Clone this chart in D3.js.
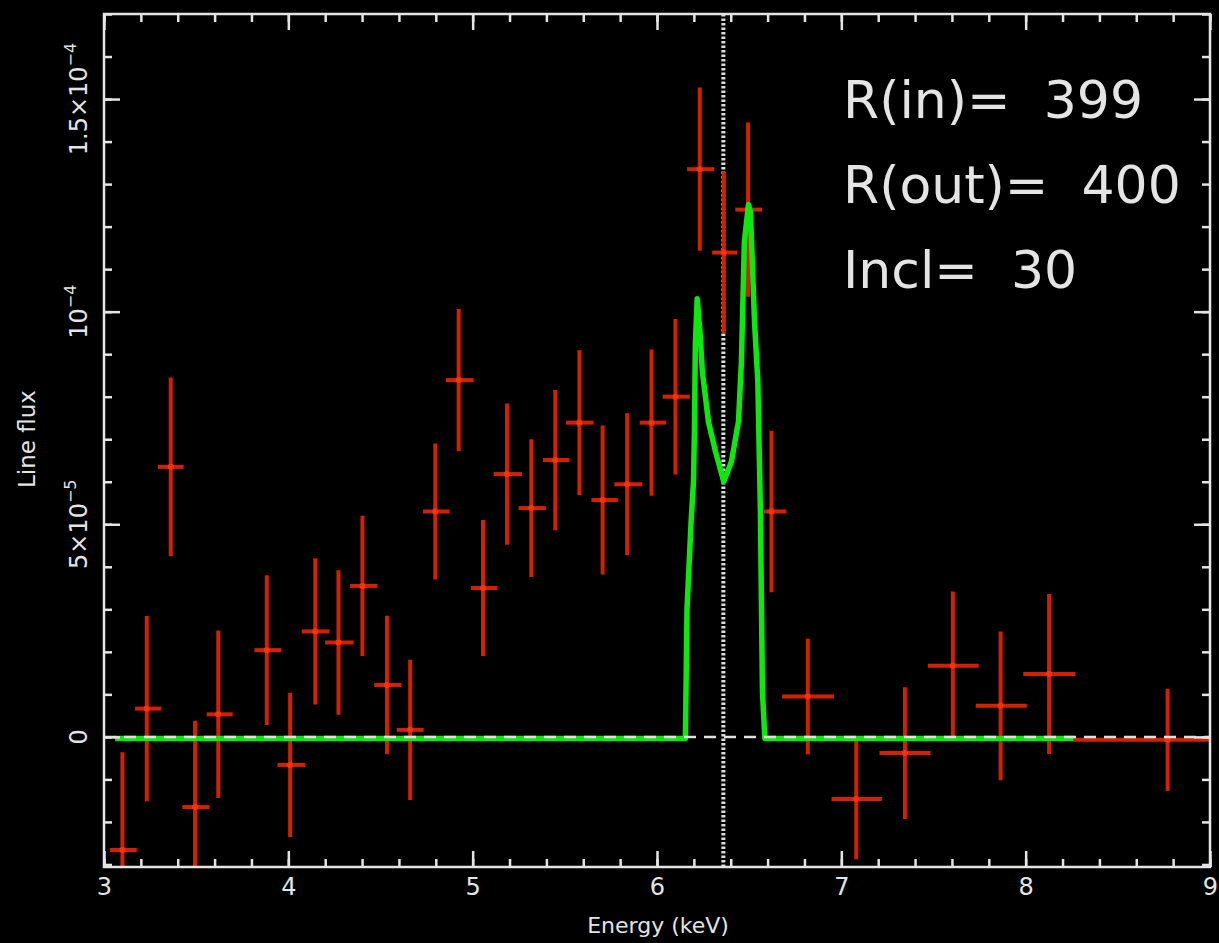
<!DOCTYPE html>
<html>
<head>
<meta charset="utf-8">
<script src="https://cdn.jsdelivr.net/npm/d3@7"></script>
<style>
  html, body { margin: 0; padding: 0; background: #000; }
  svg { display: block; }
</style>
</head>
<body>
<script>
(function(){
//data binned line flux (units of 1e-5)
var energy = [3.10, 3.232, 3.362, 3.494, 3.62, 3.883, 4.01, 4.146, 4.272, 4.402, 4.535, 4.661, 4.797, 4.924, 5.056, 5.186, 5.318, 5.448, 5.579, 5.705, 5.838, 5.97, 6.10, 6.232, 6.362, 6.494, 6.621, 6.818, 7.081, 7.345, 7.605, 7.864, 8.127, 8.77];
var energyLo = [3.033, 3.168, 3.292, 3.425, 3.557, 3.816, 3.941, 4.073, 4.20, 4.335, 4.466, 4.588, 4.73, 4.855, 4.99, 5.114, 5.249, 5.381, 5.506, 5.644, 5.769, 5.906, 6.031, 6.163, 6.299, 6.425, 6.58, 6.679, 6.947, 7.207, 7.469, 7.729, 7.987, 8.26];
var energyHi = [3.178, 3.309, 3.432, 3.572, 3.698, 3.961, 4.091, 4.223, 4.354, 4.483, 4.612, 4.734, 4.875, 5.005, 5.134, 5.268, 5.397, 5.525, 5.656, 5.787, 5.92, 6.05, 6.178, 6.311, 6.435, 6.57, 6.702, 6.96, 7.22, 7.484, 7.745, 8.006, 8.27, 9.2];
var flux = [-2.66, 0.665, 6.35, -1.65, 0.53, 2.04, -0.66, 2.48, 2.22, 3.55, 1.22, 0.165, 5.30, 8.39, 3.50, 6.18, 5.38, 6.51, 7.39, 5.57, 5.94, 7.39, 8.00, 13.35, 11.39, 12.40, 5.30, 0.95, -1.46, -0.38, 1.67, 0.73, 1.48, -0.07];
var fluxErr = [2.3, 2.18, 2.1, 2.03, 1.97, 1.76, 1.7, 1.72, 1.7, 1.65, 1.63, 1.65, 1.6, 1.67, 1.6, 1.66, 1.62, 1.65, 1.7, 1.75, 1.67, 1.72, 1.83, 1.92, 1.9, 2.05, 1.9, 1.36, 1.42, 1.55, 1.75, 1.75, 1.88, 1.2];

//disk line model (units of 1e-5)
var modelEnergy = [3.06, 6.154, 6.163, 6.185, 6.198, 6.203, 6.208, 6.218, 6.233, 6.246, 6.279, 6.317, 6.362, 6.404, 6.442, 6.458, 6.474, 6.496, 6.507, 6.529, 6.547, 6.561, 6.572, 6.585, 8.26];
var modelFlux = [0, 0, 3.06, 5.10, 6.04, 7.22, 9.26, 10.34, 9.57, 8.63, 7.45, 6.75, 6.04, 6.51, 7.45, 8.86, 11.68, 12.55, 12.39, 9.80, 8.39, 5.34, 1.10, 0, 0];

//axes
var xDomain = [3, 9],
    yDomain = [-3.06, 17.0];
var xMajor = [3, 4, 5, 6, 7, 8, 9];
var yMajor = [0, 5, 10, 15];
var yTickMain = ["0", "5\u00d710", "10", "1.5\u00d710"];
var yTickSup = ["", "\u22125", "\u22124", "\u22124"];
var lineEnergy = 6.36;
var labels = ["R(in)=  399", "R(out)=  400", "Incl=  30"];

window.onload = drawChart();

function drawChart(){
    var width = 1219,
        height = 943;
    var frame = {left: 104, right: 1210, top: 14, bottom: 867};

    var svg = d3.select("body")
        .append("svg")
        .attr("width", width)
        .attr("height", height)
        .style("background", "#000");

    var x = d3.scaleLinear().domain(xDomain).range([frame.left, frame.right]);
    var y = d3.scaleLinear().domain(yDomain).range([frame.bottom, frame.top]);

    var axisColor = "#e4e4e4";
    var font = "'DejaVu Sans', sans-serif";

    svg.append("clipPath")
        .attr("id", "plotclip")
        .append("rect")
        .attr("x", frame.left)
        .attr("y", frame.top)
        .attr("width", frame.right - frame.left)
        .attr("height", frame.bottom - frame.top);

    var plot = svg.append("g").attr("clip-path", "url(#plotclip)");

    //vertical dotted line at rest energy
    plot.append("line")
        .attr("x1", x(lineEnergy)).attr("x2", x(lineEnergy))
        .attr("y1", frame.top).attr("y2", frame.bottom)
        .attr("stroke", "#dcdcdc")
        .attr("stroke-width", 4)
        .attr("stroke-dasharray", "2.5,2");

    //data error bars
    var pts = energy.map(function(e, i){
        return {e: e, lo: energyLo[i], hi: energyHi[i], f: flux[i], err: fluxErr[i]};
    });
    var red = "#d42000";
    var bars = plot.selectAll(".pt")
        .data(pts)
        .enter()
        .append("g")
        .attr("class", "pt");
    bars.append("line")
        .attr("x1", function(d){ return x(d.e); })
        .attr("x2", function(d){ return x(d.e); })
        .attr("y1", function(d){ return y(d.f - d.err); })
        .attr("y2", function(d){ return y(d.f + d.err); })
        .attr("stroke", red)
        .attr("stroke-width", 4);
    bars.append("line")
        .attr("x1", function(d){ return x(d.lo); })
        .attr("x2", function(d){ return x(d.hi); })
        .attr("y1", function(d){ return y(d.f); })
        .attr("y2", function(d){ return y(d.f); })
        .attr("stroke", red)
        .attr("stroke-width", 4);
    bars.append("circle")
        .attr("cx", function(d){ return x(d.e); })
        .attr("cy", function(d){ return y(d.f); })
        .attr("r", 3)
        .attr("fill", "#ff3010");

    //model line
    var line = d3.line()
        .x(function(d){ return x(d[0]); })
        .y(function(d){ return y(d[1]); });
    plot.append("path")
        .datum(modelEnergy.map(function(e, i){ return [e, modelFlux[i]]; }))
        .attr("d", line)
        .attr("fill", "none")
        .attr("stroke", "#0ee80e")
        .attr("stroke-width", 5.5)
        .attr("stroke-linejoin", "round")
        .attr("transform", "translate(0,1.5)");

    //dashed zero line
    plot.append("line")
        .attr("x1", frame.left).attr("x2", frame.right)
        .attr("y1", y(0)).attr("y2", y(0))
        .attr("stroke", "#e0e0e0")
        .attr("stroke-width", 2.5)
        .attr("stroke-dasharray", "12,8");

    //frame
    svg.append("rect")
        .attr("x", frame.left)
        .attr("y", frame.top)
        .attr("width", frame.right - frame.left)
        .attr("height", frame.bottom - frame.top)
        .attr("fill", "none")
        .attr("stroke", axisColor)
        .attr("stroke-width", 2.5);

    //ticks (inward) on all four sides
    var xMinor = d3.range(xDomain[0], xDomain[1] + 0.001, 0.2);
    var yMinor = d3.range(-3, 17.001, 1);

    function styleAxis(g){
        g.select(".domain").remove();
        g.selectAll("line").attr("stroke", axisColor).attr("stroke-width", 2.5);
        g.selectAll("text").attr("fill", axisColor).style("font-family", font).style("font-size", "24px");
    }

    svg.append("g")
        .attr("transform", "translate(0," + frame.bottom + ")")
        .call(d3.axisBottom(x).tickValues(xMinor).tickSize(-8).tickFormat(""))
        .call(styleAxis);
    svg.append("g")
        .attr("transform", "translate(0," + frame.bottom + ")")
        .call(d3.axisBottom(x).tickValues(xMajor).tickSize(-16).tickPadding(11).tickFormat(d3.format("d")))
        .call(styleAxis);
    svg.append("g")
        .attr("transform", "translate(0," + frame.top + ")")
        .call(d3.axisTop(x).tickValues(xMinor).tickSize(-8).tickFormat(""))
        .call(styleAxis);
    svg.append("g")
        .attr("transform", "translate(0," + frame.top + ")")
        .call(d3.axisTop(x).tickValues(xMajor).tickSize(-16).tickFormat(""))
        .call(styleAxis);
    svg.append("g")
        .attr("transform", "translate(" + frame.left + ",0)")
        .call(d3.axisLeft(y).tickValues(yMinor).tickSize(-8).tickFormat(""))
        .call(styleAxis);
    svg.append("g")
        .attr("transform", "translate(" + frame.left + ",0)")
        .call(d3.axisLeft(y).tickValues(yMajor).tickSize(-16).tickFormat(""))
        .call(styleAxis);
    svg.append("g")
        .attr("transform", "translate(" + frame.right + ",0)")
        .call(d3.axisRight(y).tickValues(yMinor).tickSize(-8).tickFormat(""))
        .call(styleAxis);
    svg.append("g")
        .attr("transform", "translate(" + frame.right + ",0)")
        .call(d3.axisRight(y).tickValues(yMajor).tickSize(-16).tickFormat(""))
        .call(styleAxis);

    //rotated y tick labels with superscripts
    yMajor.forEach(function(v, i){
        var t = svg.append("text")
            .attr("transform", "translate(87," + y(v) + ") rotate(-90)")
            .attr("text-anchor", "middle")
            .attr("fill", axisColor)
            .style("font-family", font)
            .style("font-size", "24px")
            .text(yTickMain[i]);
        if (yTickSup[i] !== ""){
            t.append("tspan")
                .attr("dy", -11)
                .style("font-size", "16px")
                .text(yTickSup[i]);
        };
    });

    //axis titles
    svg.append("text")
        .attr("x", 658)
        .attr("y", 933)
        .attr("text-anchor", "middle")
        .attr("fill", axisColor)
        .style("font-family", font)
        .style("font-size", "22px")
        .text("Energy (keV)");
    svg.append("text")
        .attr("transform", "translate(35,439) rotate(-90)")
        .attr("text-anchor", "middle")
        .attr("fill", axisColor)
        .style("font-family", font)
        .style("font-size", "23px")
        .text("Line flux");

    //parameter labels
    svg.selectAll(".param")
        .data(labels)
        .enter()
        .append("text")
        .attr("class", "param")
        .attr("x", 843)
        .attr("y", function(d, i){ return 118 + i * 85; })
        .attr("fill", axisColor)
        .style("font-family", font)
        .style("font-size", "52px")
        .style("white-space", "pre")
        .attr("xml:space", "preserve")
        .text(function(d){ return d; });
};
})();
</script>
</body>
</html>
